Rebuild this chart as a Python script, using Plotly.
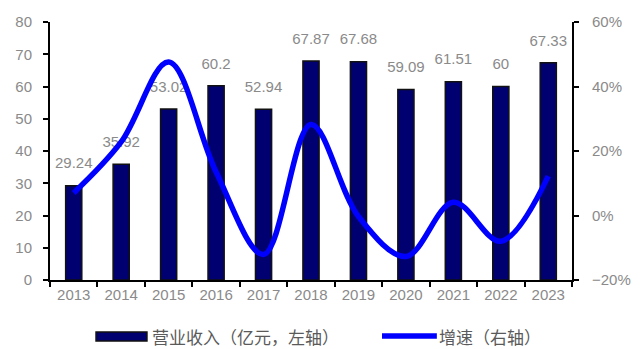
import plotly.graph_objects as go

years = ["2013", "2014", "2015", "2016", "2017", "2018", "2019", "2020", "2021", "2022", "2023"]
revenue = [29.24, 35.92, 53.02, 60.2, 52.94, 67.87, 67.68, 59.09, 61.51, 60, 67.33]
growth = [0.07, 0.228, 0.476, 0.135, -0.121, 0.282, -0.003, -0.127, 0.041, -0.08, 0.122]

revenue_name = "营业收入（亿元，左轴）"
growth_name = "增速（右轴）"

GRAY = "#8a8a8a"
NAVY = "#000070"
BLUE = "#0000ff"

fig = go.Figure()

fig.add_trace(go.Bar(
    x=years, y=revenue, name=revenue_name, width=0.34,
    marker=dict(color=NAVY, line=dict(color="#111111", width=1.5)),
    yaxis="y", showlegend=False,
))

# value labels above the bars (drawn under the growth line)
fig.add_trace(go.Scatter(
    x=years, y=revenue, mode="markers+text",
    text=[f"{v:g}" for v in revenue], textposition="top center",
    textfont=dict(family="Liberation Sans, Arial", size=15, color=GRAY),
    marker=dict(size=20, opacity=0), hoverinfo="skip",
    yaxis="y", showlegend=False,
))

fig.add_trace(go.Scatter(
    x=years, y=growth, name=growth_name, mode="lines",
    line=dict(color=BLUE, width=5.5, shape="spline", smoothing=1.0),
    yaxis="y2", showlegend=False,
))

axis_font = dict(family="Liberation Sans, Arial", size=15, color=GRAY)

fig.update_layout(
    width=643, height=349,
    margin=dict(l=50, r=60, t=22, b=69),
    paper_bgcolor="white", plot_bgcolor="white",
    bargap=0.66,
    xaxis=dict(
        type="category", range=[-0.5, 10.5], tickson="boundaries",
        showline=True, linecolor="black", linewidth=2,
        ticks="outside", ticklen=5, tickcolor="black", tickwidth=1.5,
        tickfont=axis_font, showgrid=False, zeroline=False,
    ),
    yaxis=dict(
        range=[0, 80], dtick=10, showline=True, linecolor="black", linewidth=2,
        ticks="outside", ticklen=5, tickcolor="black", tickwidth=1.5,
        tickfont=axis_font, showgrid=False, zeroline=False, ticklabelstandoff=8,
    ),
    yaxis2=dict(
        range=[-0.2, 0.6], dtick=0.2, tickformat=".0%", overlaying="y", side="right",
        showline=True, linecolor="black", linewidth=2,
        ticks="outside", ticklen=5, tickcolor="black", tickwidth=1.5,
        tickfont=axis_font, showgrid=False, zeroline=False, ticklabelstandoff=10,
    ),
)

# legend drawn below the plot area
legend_font = dict(family="Noto Sans CJK SC", size=17, color="#5a5a5a")
legend_y = -(336 - 280) / 258
fig.add_shape(type="rect", xref="paper", yref="paper",
              x0=(97 - 50) / 533, x1=(149 - 50) / 533,
              y0=-(341 - 280) / 258, y1=-(332 - 280) / 258,
              fillcolor=NAVY, line=dict(color="#111111", width=1.5))
fig.add_annotation(xref="paper", yref="paper", x=(153 - 50) / 533, y=legend_y,
                   text=revenue_name, showarrow=False, xanchor="left", yanchor="middle",
                   font=legend_font, borderpad=0)
fig.add_shape(type="line", xref="paper", yref="paper",
              x0=(389 - 50) / 533, x1=(445 - 50) / 533,
              y0=legend_y, y1=legend_y,
              line=dict(color=BLUE, width=5.5))
fig.add_annotation(xref="paper", yref="paper", x=(446 - 50) / 533, y=legend_y,
                   text=growth_name, showarrow=False, xanchor="left", yanchor="middle",
                   font=legend_font, borderpad=0)

fig.write_html("out.html")
